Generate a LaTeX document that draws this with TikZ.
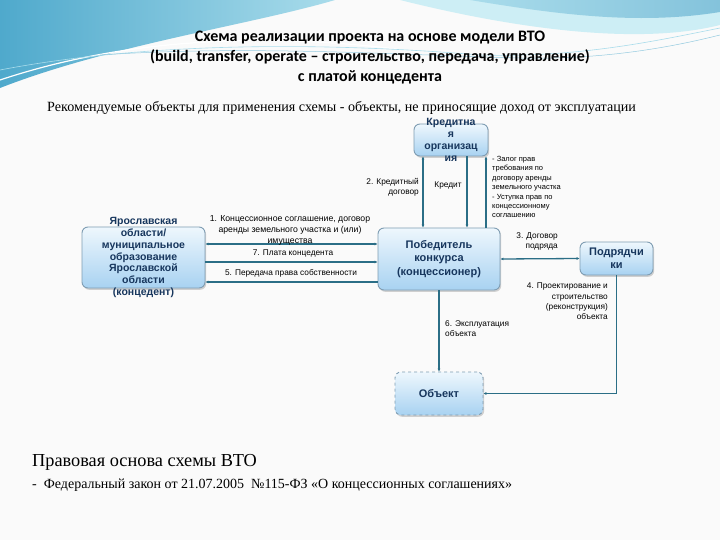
\documentclass[tikz,border=0pt]{standalone}
\usepackage{fontspec}
\setmainfont{Liberation Serif}
\newfontfamily\titlefont{Carlito}
\newfontfamily\sansf{Liberation Sans}
\usetikzlibrary{arrows.meta,shadows}
\definecolor{boxtop}{HTML}{EEF7FD}
\definecolor{boxbot}{HTML}{A8D2F1}
\definecolor{boxedge}{HTML}{7F9DB3}
\definecolor{boxtext}{HTML}{17365D}
\definecolor{conn}{HTML}{2B6E86}
\definecolor{wavedark}{HTML}{4FA9CC}
\definecolor{wavelight}{HTML}{A9DCEB}
\definecolor{wavepale}{HTML}{CDEEF5}
\begin{document}
\begin{tikzpicture}[x=1pt,y=-1pt,
  box/.style={rounded corners=6pt, draw=boxedge, line width=0.9pt,
    top color=boxtop, bottom color=boxbot,
    drop shadow={opacity=0.35, shadow xshift=1.2pt, shadow yshift=-1.8pt}},
  boxlbl/.style={font=\sansf\bfseries\fontsize{10.5}{11.7}\selectfont, text=boxtext, align=center, inner sep=0pt},
  lbl/.style={font=\sansf\fontsize{8.3}{10}\selectfont, inner sep=0pt},
  link/.style={draw=conn, line width=1.3pt},
  tip/.style={-{Latex[length=3pt,width=3pt]}},
  bitip/.style={{Latex[length=3pt,width=3pt]}-{Latex[length=3pt,width=3pt]}}
]
\useasboundingbox (0,0) rectangle (720,540);
\fill[white!96!gray] (0,0) rectangle (720,540);
% top wave decoration
\shade[left color=wavedark, right color=wavelight] (0,0) -- (335,0) .. controls (250,25) and (110,45) .. (0,88) -- cycle;
\fill[wavepale] (400,0) -- (720,0) -- (720,25) .. controls (640,45) and (520,30) .. (400,0) -- cycle;
\shade[left color=wavelight, right color=wavedark!70] (470,0) -- (720,0) -- (720,12) .. controls (640,25) and (560,15) .. (470,0) -- cycle;
\draw[white, line width=1.2pt] (0,80) .. controls (120,40) and (260,30) .. (420,52);
\draw[wavelight, line width=0.6pt] (0,70) .. controls (130,45) and (300,40) .. (480,55) .. controls (580,58) and (660,40) .. (720,28);
\draw[wavedark!60, line width=0.5pt] (100,55) .. controls (250,45) and (400,55) .. (520,58) .. controls (610,60) and (680,45) .. (720,35);
% titles
\node[font=\titlefont\bfseries\fontsize{16}{20}\selectfont, align=center, anchor=north, inner sep=0pt] (title) at (370,31)
  {Схема реализации проекта на основе модели ВТО\\(build, transfer, operate – строительство, передача, управление)\\с платой концедента};
\node[font=\fontsize{14.1}{16}\selectfont, anchor=west, inner sep=0pt] (rec) at (47,108)
  {Рекомендуемые объекты для применения схемы - объекты, не приносящие доход от эксплуатации};
% boxes
\node[box, minimum width=74pt, minimum height=32pt] (kred) at (451,140) {};
\node[boxlbl, font=\sansf\bfseries\fontsize{10.5}{12}\selectfont] (kredt) at (kred.center) {Кредитна\\я\\организац\\ия};
\node[box, minimum width=123pt, minimum height=61pt] (left) at (143.5,257.5) {};
\node[boxlbl] (leftt) at (left.center) {Ярославская\\области/\\муниципальное\\образование\\Ярославской\\области\\(концедент)};
\node[box, minimum width=122pt, minimum height=62pt] (win) at (439,259) {};
\node[boxlbl, font=\sansf\bfseries\fontsize{11}{13.5}\selectfont] (wint) at (win.center) {Победитель\\конкурса\\(концессионер)};
\node[box, minimum width=73pt, minimum height=33pt] (pod) at (616.5,258.5) {};
\node[boxlbl, font=\sansf\bfseries\fontsize{11}{13}\selectfont] (podt) at (pod.center) {Подрядчи\\ки};
\node[box, dashed, minimum width=88pt, minimum height=43pt] (obj) at (439,393.5) {};
\node[boxlbl, font=\sansf\bfseries\fontsize{11}{13}\selectfont] (objt) at (obj.center) {Объект};
% credit connectors
\draw[link, bitip] (423,0 |- kred.south) -- (423,0 |- win.north);
\draw[link, tip, line width=2.6pt] (467,0 |- kred.south) -- (467,0 |- win.north);
\draw[link, tip] (486,0 |- win.north) -- (486,0 |- kred.south);
% left connectors
\draw[link, bitip] (left.east |- 0,244) -- (win.west |- 0,244);
\draw[link, tip, line width=1.6pt] (left.east |- 0,262) -- (win.west |- 0,262);
\draw[link, tip] (win.west |- 0,282) -- (left.east |- 0,282);
% contractor
\draw[link, bitip] (win.east) -- (pod.west);
\draw[link, tip, line width=1.6pt] (pod.south) -- (pod.south |- obj.east) -- (obj.east);
\draw[link, tip, line width=1.6pt] (win.south) -- (obj.north);
% labels
\node[lbl, align=right, anchor=north east] (l2) at (419,178) {2. Кредитный\\договор};
\node[lbl] (lk) at (448,186) {Кредит};
\node[lbl, align=left, anchor=north west, font=\sansf\fontsize{7.5}{9.4}\selectfont] (lz) at (492,156) {- Залог прав\\требования по\\договору аренды\\земельного участка\\- Уступка прав по\\концессионному\\соглашению};
\node[lbl, align=center, font=\sansf\fontsize{8.7}{11}\selectfont] (l1) at (290,230) {1. Концессионное соглашение, договор\\аренды земельного участка и (или)\\имущества};
\node[lbl] (l7) at (293,253) {7. Плата концедента};
\node[lbl] (l5) at (291,273) {5. Передача права собственности};
\node[lbl, align=right, anchor=north east] (l3) at (558,233) {3. Договор\\подряда};
\node[lbl, align=right, anchor=north east, font=\sansf\fontsize{8.3}{10.2}\selectfont] (l4) at (608,283) {4. Проектирование и\\строительство\\(реконструкция)\\объекта};
\node[lbl, align=left, anchor=north west] (l6) at (445,321) {6. Эксплуатация\\объекта};
% bottom
\node[font=\fontsize{18.3}{20}\selectfont, anchor=west, inner sep=0pt] (legal) at (32,462) {Правовая основа схемы ВТО};
\node[font=\fontsize{14}{16}\selectfont, anchor=west, inner sep=0pt] (law) at (32,485) {-\ \ Федеральный закон от 21.07.2005\ \ №115-ФЗ «О концессионных соглашениях»};
\end{tikzpicture}
\end{document}
